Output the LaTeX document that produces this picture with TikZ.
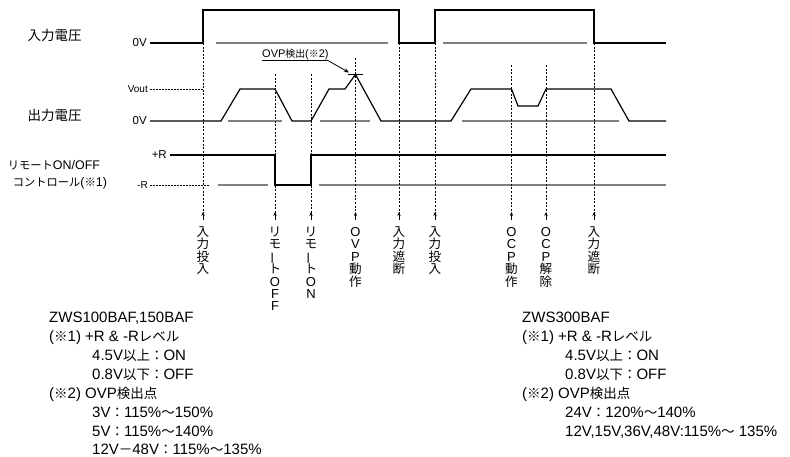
\documentclass[tikz,border=0pt]{standalone}
\usepackage{fontspec}
\usepackage{graphicx}
\setmainfont{Liberation Sans}
\newfontfamily\jpf{Noto Sans CJK JP}[Scale=0.9]
\newcommand\J[1]{{\jpf #1}}
\newcommand\Jb[1]{{\fontsize{14}{14}\selectfont\jpf #1}}
\usetikzlibrary{arrows.meta}
\newcommand\vbarch{\rotatebox[origin=c]{90}{\Jb{ー}}}
\begin{document}
\begin{tikzpicture}[x=1pt,y=-1pt,
  wave/.style={line width=1.2pt, black, line join=miter},
  refl/.style={line width=1.3pt, gray},
  guide/.style={line width=0.7pt, dash pattern=on 2pt off 1.6pt},
  lvl/.style={line width=0.7pt, dash pattern=on 1.5pt off 1.5pt},
  lbl/.style={font=\fontsize{15}{17}\selectfont, inner sep=0},
  rlbl/.style={font=\fontsize{12.5}{14}\selectfont, inner sep=0},
  small/.style={font=\fontsize{11.5}{13}\selectfont, inner sep=0},
  smaller/.style={font=\fontsize{10}{12}\selectfont, inner sep=0},
  vch/.style={font=\fontsize{13}{14}\selectfont, inner sep=0, anchor=base},
  note/.style={font=\fontsize{15}{17}\selectfont, inner sep=0, anchor=base west},
  up/.style={-{Stealth[length=4pt,width=3.4pt]}, line width=0.7pt}
]
\useasboundingbox (0,0) rectangle (790,456);

% ---- left labels
\node[lbl] (inV) at (54.5,35) {\J{入力電圧}};
\node[lbl] (outV) at (54.5,115) {\J{出力電圧}};
\node[rlbl] (rem1) at (54,165) {\J{リモート}ON/OFF};
\node[rlbl] (rem2) at (60,183) {\J{コントロール}(\J{※}1)};
\node[small, anchor=east] (l0a) at (147,43) {0V};
\node[smaller, anchor=east] (lvo) at (148,89) {Vout};
\node[small, anchor=east] (l0b) at (147,121) {0V};
\node[small, anchor=east] (lpr) at (167,155) {+R};
\node[smaller, anchor=east] (lmr) at (148,185) {-R};

% ---- reference (gray) lines
\draw[refl] (216,43) -- (388,43);
\draw[refl] (443,43) -- (587,43);
\draw[refl] (228,121) -- (282,121);
\draw[refl] (320,121) -- (370,121);
\draw[refl] (462,121) -- (619,121);
\draw[refl] (218,185) -- (268,185);
\draw[refl] (319,185) -- (666,185);

% ---- dotted level lines
\draw[lvl] (lvo.east) ++(2,0) -- (203,89);
\draw[lvl] (lmr.east) ++(2,0) -- (210,185);

% ---- waveforms
\draw[wave] (150,43) -- (203,43) -- (203,10) -- (399,10) -- (399,43) -- (435,43)
  -- (435,10) -- (594,10) -- (594,43) -- (666,43);
\draw[wave] (150,121) -- (221,121) -- (240,89) -- (275,89) -- (292,121) -- (311,121)
  -- (329,89) -- (345,89) -- (355.5,74.5) -- (381,121) -- (451,121) -- (471,89)
  -- (511.5,89) -- (518,106) -- (538,106) -- (546,89) -- (611,89) -- (629,121) -- (666,121);
\draw[wave] (170,155) -- (275,155) -- (275,185) -- (311,185) -- (311,155) -- (666,155);

% ---- OVP marker
\coordinate (peak) at (349,72.5);
\draw[line width=0.7pt] (348,74.5) -- (363,74.5);
\node[font=\fontsize{11}{12}\selectfont, inner sep=0, anchor=base west] (ovp) at (262,57) {OVP\J{検出}(\J{※}2)};
\coordinate (ovpul) at (327,60);
\draw[line width=0.7pt] (262,60) -- (ovpul);
\draw[line width=0.8pt, -{Stealth[length=5pt,width=4pt]}] (ovpul) -- (peak);

% ---- guide lines and vertical labels
\foreach \x/\ya/\txt [count=\k] in {
  203/43/{\Jb{入},\Jb{力},\Jb{投},\Jb{入}},
  275/74/{\Jb{リ},\Jb{モ},\vbarch,\Jb{ト},O,F,F},
  311/74/{\Jb{リ},\Jb{モ},\vbarch,\Jb{ト},O,N},
  355.5/58/{O,V,P,\Jb{動},\Jb{作}},
  399/43/{\Jb{入},\Jb{力},\Jb{遮},\Jb{断}},
  435/43/{\Jb{入},\Jb{力},\Jb{投},\Jb{入}},
  511.5/65/{O,C,P,\Jb{動},\Jb{作}},
  546/65/{O,C,P,\Jb{解},\Jb{除}},
  594/43/{\Jb{入},\Jb{力},\Jb{遮},\Jb{断}}}{
  \draw[guide] (\x,\ya) -- (\x,213);
  \draw[up] (\x,220) -- (\x,212);
  \foreach \c [count=\i] in \txt {
    \node[vch] (v\k-\i) at (\x,223.8+12.45*\i) {\c};
  }
}

% ---- notes left
\node[note] (a1) at (49,322.5) {ZWS100BAF,150BAF};
\node[note] (a2) at (49,341.5) {(\J{※}1) +R \& -R\J{レベル}};
\node[note] (a3) at (92,360.5) {4.5V\J{以上：}ON};
\node[note] (a4) at (92,379.5) {0.8V\J{以下：}OFF};
\node[note] (a5) at (49,398.5) {(\J{※}2) OVP\J{検出点}};
\node[note] (a6) at (92,417.5) {3V\J{：}115\%\J{〜}150\%};
\node[note] (a7) at (92,436) {5V\J{：}115\%\J{〜}140\%};
\node[note] (a8) at (92,454) {12V\J{－}48V\J{：}115\%\J{〜}135\%};

% ---- notes right
\node[note] (b1) at (522,322.5) {ZWS300BAF};
\node[note] (b2) at (522,341.5) {(\J{※}1) +R \& -R\J{レベル}};
\node[note] (b3) at (565,360.5) {4.5V\J{以上：}ON};
\node[note] (b4) at (565,379.5) {0.8V\J{以下：}OFF};
\node[note] (b5) at (522,398.5) {(\J{※}2) OVP\J{検出点}};
\node[note] (b6) at (565,417.5) {24V\J{：}120\%\J{〜}140\%};
\node[note] (b7) at (565,436) {12V,15V,36V,48V:115\%\J{〜} 135\%};
\end{tikzpicture}
\end{document}
